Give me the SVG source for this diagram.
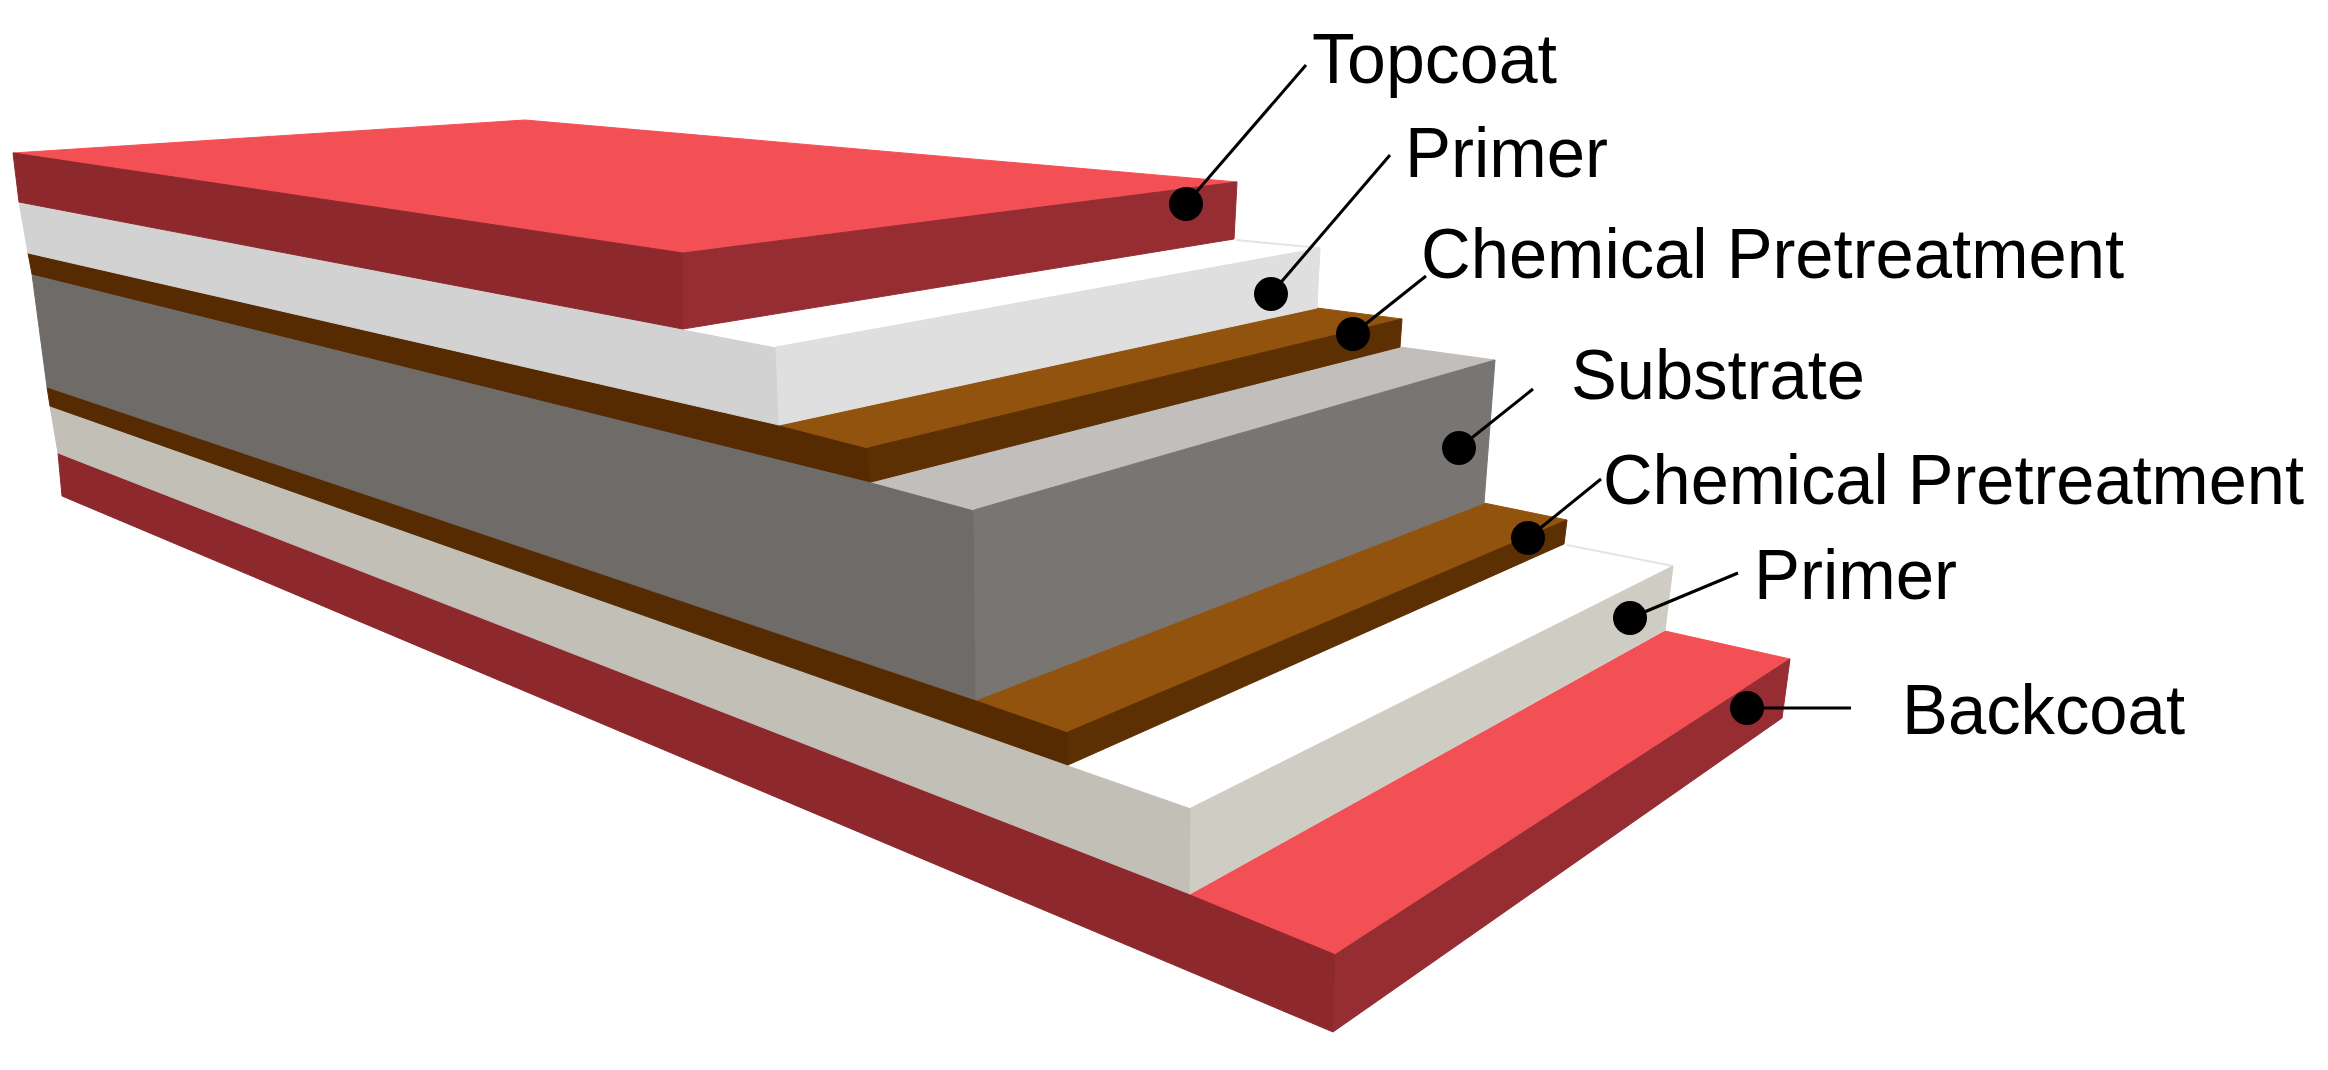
<svg xmlns="http://www.w3.org/2000/svg" width="2328" height="1070" viewBox="0 0 2328 1070">
<style>
.t{font-family:"Liberation Sans",Arial,sans-serif;font-size:70px;fill:#000}
.l{stroke:#000;stroke-width:3;fill:none}
.d{fill:#000}
.e{stroke:#e4e4e4;stroke-width:2;fill:none}
polygon{stroke-width:1;stroke-linejoin:round}
.rt{fill:#f35055;stroke:#f35055}.rl{fill:#8d282d;stroke:#8d282d}.rr{fill:#962d32;stroke:#962d32}
.wt{fill:#fff;stroke:#fff}.wl{fill:#d2d2d2;stroke:#d2d2d2}.wr{fill:#dfdfdf;stroke:#dfdfdf}
.bt{fill:#92530f;stroke:#92530f}.bl{fill:#562b02;stroke:#562b02}.br{fill:#5c3003;stroke:#5c3003}
.gt{fill:#c2bebb;stroke:#c2bebb}.gl{fill:#6e6b69;stroke:#6e6b69}.gr{fill:#787573;stroke:#787573}
.pl{fill:#c2bfb7;stroke:#c2bfb7}.pr{fill:#cfccc4;stroke:#cfccc4}
</style>
<rect width="2328" height="1070" fill="#fff"/>
<g id="backcoat">
<polygon class="rl" points="58,453 1190,890 1336,954 1333,1032 62,496"/>
<polygon class="rt" points="1190,894 1665,631 1790,659 1336,954"/>
<polygon class="rr" points="1336,954 1790,659 1782,718 1333,1032"/>
</g>
<g id="primer-lower">
<polygon class="pl" points="50,406 1191,808 1190,894 58,453"/>
<polygon class="wt" points="1068,765 1567,545 1673,566 1191,808"/>
<line class="e" x1="1567" y1="545" x2="1673" y2="566"/>
<polygon class="pr" points="1191,808 1673,566 1665,630 1190,894"/>
</g>
<g id="pretreatment-lower">
<polygon class="bl" points="47,387 976,698 1068,732 1068,765 50,406"/>
<polygon class="bt" points="976,700 1484,503 1567,520 1068,732"/>
<polygon class="br" points="1068,732 1567,520 1564,544 1068,765"/>
</g>
<g id="substrate">
<polygon class="gl" points="32,274 871,481 974,510 976,700 47,387"/>
<polygon class="gt" points="871,482 1400,347 1495,360 974,510"/>
<polygon class="gr" points="974,510 1495,360 1484,503 976,700"/>
</g>
<g id="pretreatment-upper">
<polygon class="bl" points="28,253 779,423 868,448 871,482 32,274"/>
<polygon class="bt" points="779,425 1317,308 1402,319 868,448"/>
<polygon class="br" points="868,448 1402,319 1400,347 871,482"/>
</g>
<g id="primer-upper">
<polygon class="wl" points="19,202 776,347 779,425 28,253"/>
<polygon class="wt" points="683,329 1234,239 1320,248 776,347"/>
<line class="e" x1="1236" y1="240" x2="1320" y2="248"/>
<polygon class="wr" points="776,347 1320,248 1317,308 779,425"/>
</g>
<g id="topcoat">
<polygon class="rt" points="13,153 525,120 1237,182 683,253"/>
<polygon class="rl" points="13,153 683,253 683,329 19,202"/>
<polygon class="rr" points="683,253 1237,182 1234,239 683,329"/>
</g>
<g id="connectors">
<line class="l" x1="1186" y1="204" x2="1306" y2="65"/>
<line class="l" x1="1271" y1="294" x2="1390" y2="155"/>
<line class="l" x1="1353" y1="334" x2="1426" y2="276"/>
<line class="l" x1="1459" y1="448" x2="1533" y2="389"/>
<line class="l" x1="1528" y1="538" x2="1601" y2="479"/>
<line class="l" x1="1630" y1="618" x2="1738" y2="573"/>
<line class="l" x1="1747" y1="708" x2="1851" y2="708"/>
</g>
<g id="label-topcoat"><circle class="d" cx="1186" cy="204" r="17"/><text class="t" x="1312" y="83" textLength="245" lengthAdjust="spacingAndGlyphs">Topcoat</text></g>
<g id="label-primer-1"><circle class="d" cx="1271" cy="294" r="17"/><text class="t" x="1405" y="177" textLength="203" lengthAdjust="spacingAndGlyphs">Primer</text></g>
<g id="label-chem-1"><circle class="d" cx="1353" cy="334" r="17"/><text class="t" x="1421" y="278" textLength="703" lengthAdjust="spacingAndGlyphs">Chemical Pretreatment</text></g>
<g id="label-substrate"><circle class="d" cx="1459" cy="448" r="17"/><text class="t" x="1571" y="399" textLength="294" lengthAdjust="spacingAndGlyphs">Substrate</text></g>
<g id="label-chem-2"><circle class="d" cx="1528" cy="538" r="17"/><text class="t" x="1603" y="504" textLength="701" lengthAdjust="spacingAndGlyphs">Chemical Pretreatment</text></g>
<g id="label-primer-2"><circle class="d" cx="1630" cy="618" r="17"/><text class="t" x="1754" y="599" textLength="203" lengthAdjust="spacingAndGlyphs">Primer</text></g>
<g id="label-backcoat"><circle class="d" cx="1747" cy="708" r="17"/><text class="t" x="1902" y="734" textLength="283" lengthAdjust="spacingAndGlyphs">Backcoat</text></g>
</svg>
